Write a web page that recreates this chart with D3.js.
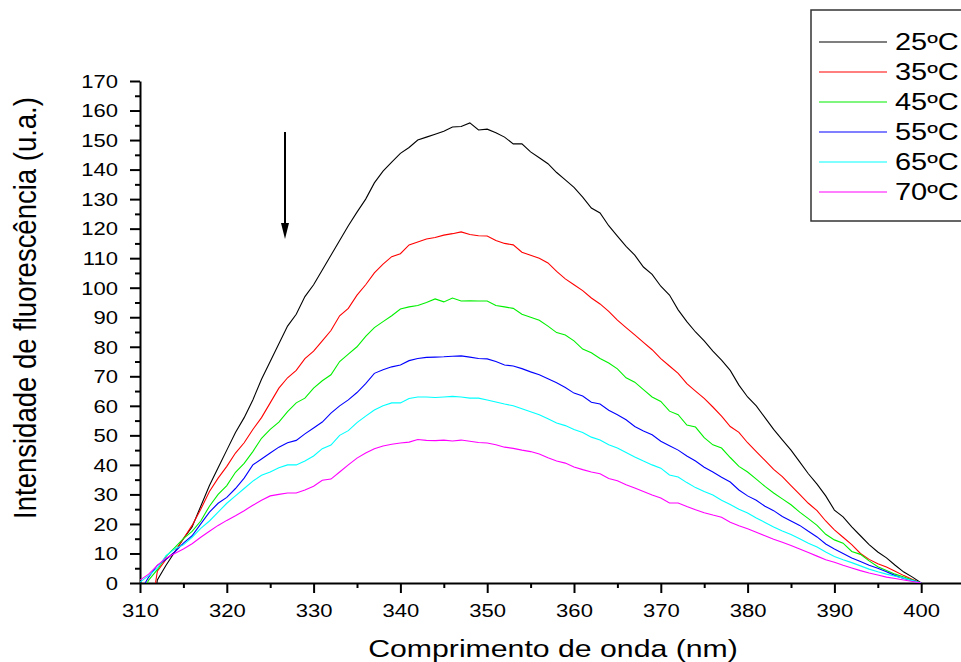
<!DOCTYPE html>
<html lang="pt">
<head>
  <meta charset="UTF-8">
  <title>Intensidade de fluorescência</title>
  <style>
    body { margin: 0; background: #fff; }
    svg { display: block; background: #fff; font-family: "Liberation Sans", Arial, sans-serif; }
    .axis path, .axis line { stroke: #000; stroke-width: 2; }
    .axis text { fill: #000; }
    .curve { fill: none; stroke-width: 1.1; }
  </style>
</head>
<body>
<svg width="961" height="662"></svg>

<script src="https://d3js.org/d3.v7.min.js"></script>
<script>
  // wavelength grid (nm), one reading per nm
  const wavelengths = d3.range(310, 401, 1);

  const labels = ["25ºC", "35ºC", "45ºC", "55ºC", "65ºC", "70ºC"];
  const colors = ["#000000", "#ff0000", "#00f000", "#0000ff", "#00ffff", "#ff00ff"];

  // intensities, 310..400 nm
  const t25 = [-40, -20, 1, 6, 10.5, 15, 19, 26, 33, 39,
    45, 51, 56, 62, 69, 75, 81, 87, 91, 97,
    101, 106, 111, 116, 121, 125.6, 130, 135.5, 139.5, 142.5,
    145.5, 147.5, 150, 151, 152, 153, 154.4, 154.6, 155.8, 153.4,
    153.7, 152.5, 151, 148.7, 148.7, 146, 144, 142, 139, 136.5,
    134, 130.7, 127, 125.3, 121, 117.5, 114, 111, 107, 104.5,
    100.5, 97.5, 92.5, 88.5, 85, 82, 78.5, 75.5, 72, 67,
    63, 60, 56, 52, 48.5, 45, 41, 37, 33.5, 29.5,
    24.7, 22.4, 19, 16, 13, 10.5, 8.5, 6, 3.7, 2, 0];
  const t35 = [-30, -15, 4, 8, 10.5, 15, 19.5, 25, 31, 35.5,
    39.5, 44, 47.5, 52, 56, 61, 66, 69.5, 72, 76,
    78.5, 82, 85.5, 90.5, 93, 97.5, 101, 105, 108, 110.5,
    111.5, 114.5, 115.5, 116.5, 117, 117.8, 118.3, 118.9, 118, 117.6,
    117.5, 116, 115, 114.5, 112, 111, 110, 108.4, 105.5, 103,
    101, 99, 96.5, 94.5, 92, 89, 86.5, 84, 81.5, 79,
    76, 73.5, 71, 67.5, 65, 62.5, 59.6, 56.5, 53, 51,
    47.5, 44.5, 41.5, 38.5, 36, 33, 30, 27, 24.5, 21,
    18, 15.5, 13, 10, 8, 6.5, 5.4, 4, 2.5, 1.2, 0];
  const t45 = [-5, 1, 4.5, 9, 12, 15, 17.5, 21, 26, 30,
    33, 37.5, 40.5, 44.5, 49, 52, 54.5, 58, 61, 62.6,
    66, 68.5, 70.5, 75, 77.5, 80, 83.5, 86.5, 88.5, 90.5,
    92.8, 93.5, 94, 95, 96.2, 95.2, 96.5, 95.5, 95.6, 95.5,
    95.5, 94, 93.5, 93, 91, 90, 89, 87, 84.8, 84,
    82, 79.2, 78, 76, 74.5, 72.5, 69.5, 68, 65.5, 63,
    61.5, 58.2, 57, 53.5, 52.8, 49.2, 46.8, 45.7, 42.5, 39.5,
    37.6, 35.2, 32.7, 30.5, 28.5, 26.5, 24, 21.8, 19.5, 16.5,
    14.6, 13.5, 10.7, 9.7, 7.5, 5.5, 4.2, 3, 2, 1, 0];
  const t55 = [-3, 2, 6, 8, 10.5, 13.5, 16, 20, 24, 27,
    29, 32, 35.5, 40, 42, 44, 46, 47.5, 48.3, 50.5,
    52.5, 54.5, 57.5, 60, 62, 64.5, 67.5, 71, 72.2, 73.2,
    73.8, 75.3, 76, 76.4, 76.5, 76.6, 76.8, 76.9, 76.5, 76,
    75.9, 75, 73.8, 73.5, 72.6, 71.5, 70.5, 69.2, 67.8, 66.2,
    64.3, 63.3, 61.2, 60.6, 58.5, 57, 55.3, 53, 51.5, 50.2,
    48, 46.5, 45, 43, 41.3, 39.2, 37.6, 35.8, 34.2, 31.5,
    29.5, 28, 26, 24.5, 22.5, 21, 19.5, 17.5, 15.6, 13.2,
    11.5, 10, 8.5, 7.3, 6, 5, 3.8, 2.5, 1.5, 0.8, 0];
  const t65 = [0.3, 2.5, 5, 9.3, 11.5, 12.9, 15.5, 18.5, 21, 24,
    27, 29.5, 32, 34.5, 36.5, 37.6, 39, 40, 40, 41.3,
    43, 45.5, 46.7, 50, 51.6, 54.3, 56.5, 58.6, 60, 61,
    61, 62.5, 63, 63, 62.8, 63, 63.2, 63, 62.6, 62.6,
    62, 61.3, 60.6, 60, 59, 58, 57, 55.6, 54.2, 53.3,
    52, 51, 49.4, 48.4, 46.8, 45.7, 44.2, 42.7, 41.3, 40,
    38.9, 36.6, 35.9, 34, 32.3, 31, 29.8, 28, 26.6, 25,
    23.7, 22, 20.5, 19, 17.6, 16.4, 15, 13.5, 12.2, 10.5,
    9, 7.9, 6.9, 5.8, 4.7, 3.8, 3, 2.3, 1.6, 0.8, 0];
  const t70 = [1, 3, 6, 8.5, 10, 11.5, 13.3, 15.5, 17.5, 19.5,
    21.2, 22.8, 24.5, 26.3, 28, 29.5, 30, 30.5, 30.5, 31.5,
    32.8, 34.8, 35.2, 37.6, 40, 42.3, 44, 45.5, 46.4, 47,
    47.4, 47.7, 48.6, 48.3, 48.2, 48.4, 48.1, 48.4, 48, 47.6,
    47.4, 46.8, 46, 45.6, 45, 44.5, 43.7, 42.4, 41.3, 40.6,
    39.3, 38.4, 37.6, 37, 35.4, 34.6, 33.3, 32.2, 31, 29.8,
    28.8, 27.1, 27.1, 25.9, 24.8, 23.8, 23, 22.3, 20.6, 19.4,
    18.4, 17.2, 16, 14.8, 13.8, 12.7, 11.5, 10.3, 9.1, 7.9,
    7, 6, 5.1, 4.2, 3.4, 2.7, 2, 1.5, 1, 0.5, 0];

  const series = [t25, t35, t45, t55, t65, t70];

  const xTicks = d3.range(310, 401, 10);
  const yTicks = d3.range(0, 171, 10);

  const svg = d3.select("svg");
  const stretch = 1.26; // glyphs in the picture are wider than tall

  const x = d3.scaleLinear().domain([310, 410]).range([140, 1008]);
  const y = d3.scaleLinear().domain([0, 170]).range([583, 81]);

  svg.append("defs").append("clipPath").attr("id", "plot")
    .append("rect")
    .attr("x", x(310)).attr("y", y(170))
    .attr("width", x(410) - x(310)).attr("height", y(0) - y(170));

  // minor ticks
  svg.append("g").attr("class", "axis")
    .attr("transform", `translate(0,${y(0)})`)
    .call(d3.axisBottom(x).tickValues(d3.range(315, 400, 10)).tickSize(5).tickFormat(""))
    .select(".domain").remove();
  svg.append("g").attr("class", "axis")
    .attr("transform", `translate(${x(310)},0)`)
    .call(d3.axisLeft(y).tickValues(d3.range(5, 170, 10)).tickSize(5).tickFormat(""))
    .select(".domain").remove();

  // major ticks
  const gx = svg.append("g").attr("class", "axis")
    .attr("transform", `translate(0,${y(0)})`)
    .call(d3.axisBottom(x).tickValues(xTicks).tickSize(10).tickSizeOuter(0).tickFormat(d3.format("d")));
  gx.selectAll("text")
    .attr("y", 34).attr("dy", 0)
    .attr("transform", `scale(${stretch},1)`)
    .style("font-size", "17.5px");

  const gy = svg.append("g").attr("class", "axis")
    .attr("transform", `translate(${x(310)},0)`)
    .call(d3.axisLeft(y).tickValues(yTicks).tickSize(10).tickSizeOuter(0).tickFormat(d3.format("d")));
  gy.selectAll("text")
    .attr("x", -22 / stretch).attr("dy", "0.36em")
    .attr("transform", `scale(${stretch},1)`)
    .style("font-size", "17.5px");

  // curves
  const line = d3.line()
    .x((d, i) => x(wavelengths[i]))
    .y(d => y(d));

  svg.append("g").attr("clip-path", "url(#plot)")
    .selectAll("path")
    .data(series)
    .join("path")
    .attr("class", "curve")
    .attr("stroke", (d, i) => colors[i])
    .attr("d", line);

  // axis titles
  svg.append("text")
    .attr("transform", `translate(553,657) scale(${stretch},1)`)
    .attr("text-anchor", "middle")
    .style("font-size", "24px")
    .text("Comprimento de onda (nm)");

  svg.append("text")
    .attr("transform", `translate(36,308) scale(1.15,1) rotate(-90)`)
    .attr("text-anchor", "middle")
    .style("font-size", "27.5px")
    .text("Intensidade de fluorescência (u.a.)");

  // arrow
  svg.append("line")
    .attr("x1", 285).attr("y1", 132).attr("x2", 285).attr("y2", 226)
    .attr("stroke", "#000").attr("stroke-width", 2);
  svg.append("path")
    .attr("d", "M281,223 L289,223 L285,239 Z")
    .attr("fill", "#000");

  // legend
  const legend = svg.append("g");
  legend.append("rect")
    .attr("x", 811).attr("y", 10).attr("width", 200).attr("height", 211)
    .attr("fill", "#fff").attr("stroke", "#333").attr("stroke-width", 1.5);

  labels.forEach((lab, i) => {
    const ly = 42 + i * 30;
    legend.append("line")
      .attr("x1", 819).attr("x2", 887).attr("y1", ly).attr("y2", ly)
      .attr("stroke", colors[i]).attr("stroke-width", 1.2);
    legend.append("text")
      .attr("transform", `translate(895,${ly + 8}) scale(${stretch},1)`)
      .style("font-size", "23px")
      .text(lab);
  });
</script>
</body>
</html>
